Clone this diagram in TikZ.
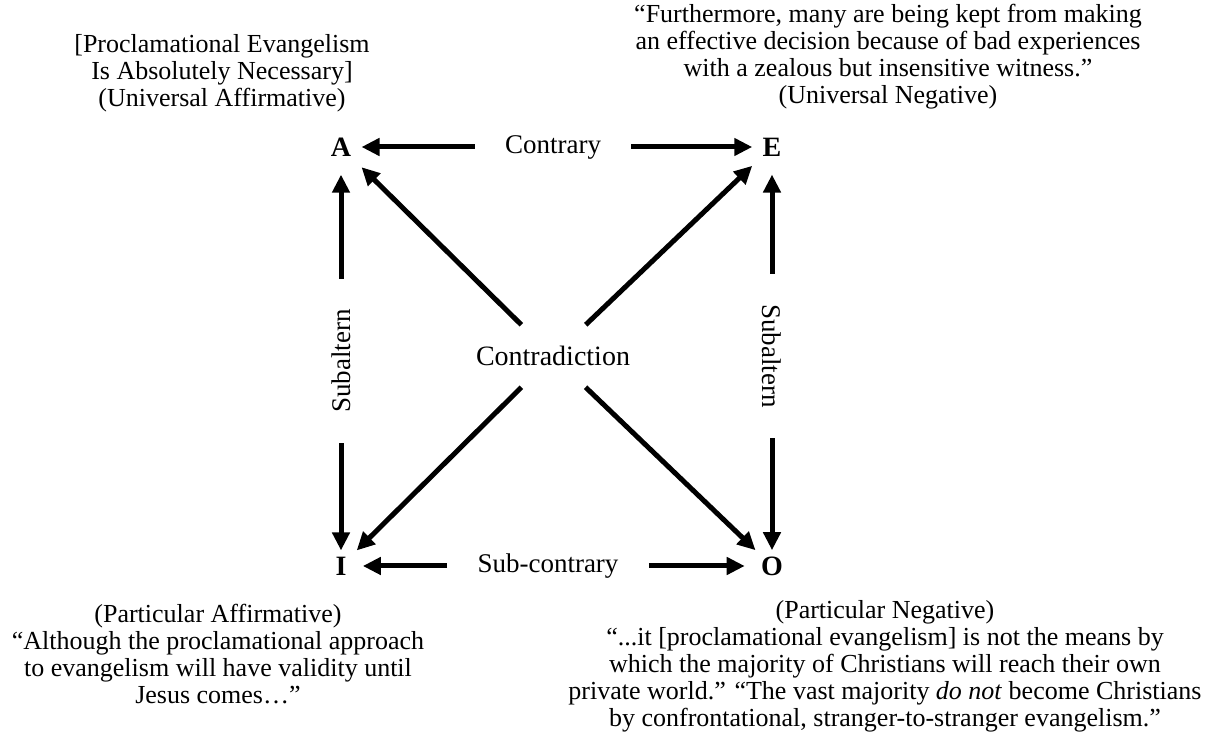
\documentclass[tikz,border=0pt]{standalone}
\usepackage{fontspec}
\setmainfont{Liberation Serif}
\usetikzlibrary{arrows.meta}
\begin{document}
\begin{tikzpicture}[x=0.5pt,y=0.5pt]
\tikzset{coin/.style={font=\fontsize{14}{16}\selectfont\bfseries, inner xsep=5pt, inner ysep=9pt}}
\tikzset{coinbas/.style={coin, inner xsep=8pt, inner ysep=3pt}}
\tikzset{etiquette/.style={font=\fontsize{13.5}{15}\selectfont, inner xsep=15pt, inner ysep=2pt}}
\tikzset{centre/.style={font=\fontsize{14}{16}\selectfont, inner xsep=2pt, inner ysep=10.5pt}}
\tikzset{bloc/.style={font=\fontsize{13}{13.5}\selectfont, align=center, inner sep=0pt}}
\tikzset{fleche/.style={line width=2.5pt, -{Triangle[length=9pt,width=8.5pt]}}}
\useasboundingbox (0,0) rectangle (1228,-747);
\node[coin] (A) at (341,-147) {A};
\node[coin] (E) at (772,-147) {E};
\node[coinbas] (I) at (341,-566) {I};
\node[coinbas] (O) at (772,-566) {O};
\node[etiquette] (ctr) at (553,-147) {Contrary};
\node[etiquette] (sct) at (548,-566) {Sub-contrary};
\node[etiquette, rotate=90] (subG) at (341,-361) {Subaltern};
\node[etiquette, rotate=-90] (subD) at (772,-356) {Subaltern};
\node[centre] (cdn) at (553,-356) {Contradiction};
\node[bloc] (tA) at (222,-73) {[Proclamational Evangelism\\Is Absolutely Necessary]\\(Universal Affirmative)};
\node[bloc] (tE) at (888,-57) {“Furthermore, many are being kept from making\\an effective decision because of bad experiences\\with a zealous but insensitive witness.”\\(Universal Negative)};
\node[bloc] (tI) at (218,-654) {(Particular Affirmative)\\“Although the proclamational approach\\to evangelism will have validity until\\Jesus comes…”};
\node[bloc] (tO) at (885,-666) {(Particular Negative)\\“...it [proclamational evangelism] is not the means by\\which the majority of Christians will reach their own\\private world.” “The vast majority \textit{do not} become Christians\\by confrontational, stranger-to-stranger evangelism.”};
\draw[fleche] (ctr) -- (A);
\draw[fleche] (ctr) -- (E);
\draw[fleche] (sct) -- (I);
\draw[fleche] (sct) -- (O);
\draw[fleche] (subG) -- (A);
\draw[fleche] (subG) -- (I);
\draw[fleche] (subD) -- (E);
\draw[fleche] (subD) -- (O);
\draw[fleche] (cdn) -- (A);
\draw[fleche] (cdn) -- (E);
\draw[fleche] (cdn) -- (I);
\draw[fleche] (cdn) -- (O);
\end{tikzpicture}
\end{document}
